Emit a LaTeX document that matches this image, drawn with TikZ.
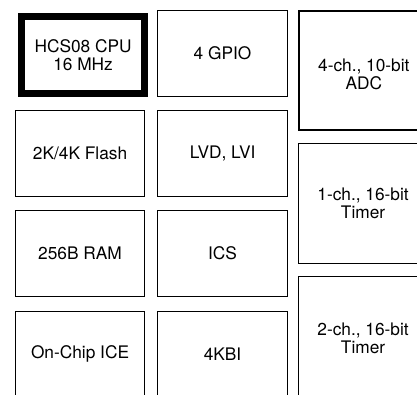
\documentclass[tikz,border=0pt]{standalone}
\usepackage{fontspec}
\setmainfont{TeX Gyre Heros}
\usepackage{tikz}
\usetikzlibrary{positioning}

\begin{document}
\begin{tikzpicture}[
    x=1pt, y=-1pt,
    font=\fontsize{17.3}{18.3}\selectfont,
    blk/.style={
        draw=black,
        minimum width=#1,
        minimum height=85.5pt,
        align=center,
        inner sep=0pt,
        line width=1.1pt,
        anchor=north west
    },
    side/.style={
        draw=black,
        minimum width=129pt,
        minimum height=#1,
        align=center,
        inner sep=0pt,
        line width=1.1pt,
        anchor=north west
    },
    core/.style={
        draw=black,
        minimum width=123pt,
        minimum height=77pt,
        align=center,
        inner sep=0pt,
        line width=6.6pt,
        anchor=north west
    },
    txt/.style={align=center, inner sep=0pt}
]
\useasboundingbox (0,0) rectangle (417,394);
\clip (0,0) rectangle (417,394);

%-----------------------------------
% Column 1: core and memories
%-----------------------------------
\node[core] (cpu) at (18.3,13.3) {HCS08 CPU\\16 MHz};
\node[blk=129pt] (flash) at (15,110) {2K/4K Flash};
\node[blk=129pt] (ram)   at (15,210) {256B RAM};
\node[blk=129pt] (ice)   at (15,311) {On-Chip ICE};

%-----------------------------------
% Column 2: system blocks
%-----------------------------------
\node[blk=130pt] (gpio) at (157,10)  {4 GPIO};
\node[blk=130pt] (lvd)  at (157,110) {LVD, LVI};
\node[blk=130pt] (ics)  at (157,210) {ICS};
\node[blk=130pt] (kbi)  at (157,311) {4KBI};

%-----------------------------------
% Column 3: analog and timers
%-----------------------------------
\node[side=119pt, line width=2pt] (adc) at (298.3,10) {};
\node[txt] (adctxt) at ([yshift=-4pt]adc.center) {4-ch., 10-bit\\ADC};
\node[side=120pt] (tmra) at (298,143) {1-ch., 16-bit\\Timer};
\node[side=120pt] (tmrb) at (298,276) {};
\node[txt] (tmrbtxt) at ([yshift=-2pt]tmrb.center) {2-ch., 16-bit\\Timer};

\end{tikzpicture}
\end{document}
